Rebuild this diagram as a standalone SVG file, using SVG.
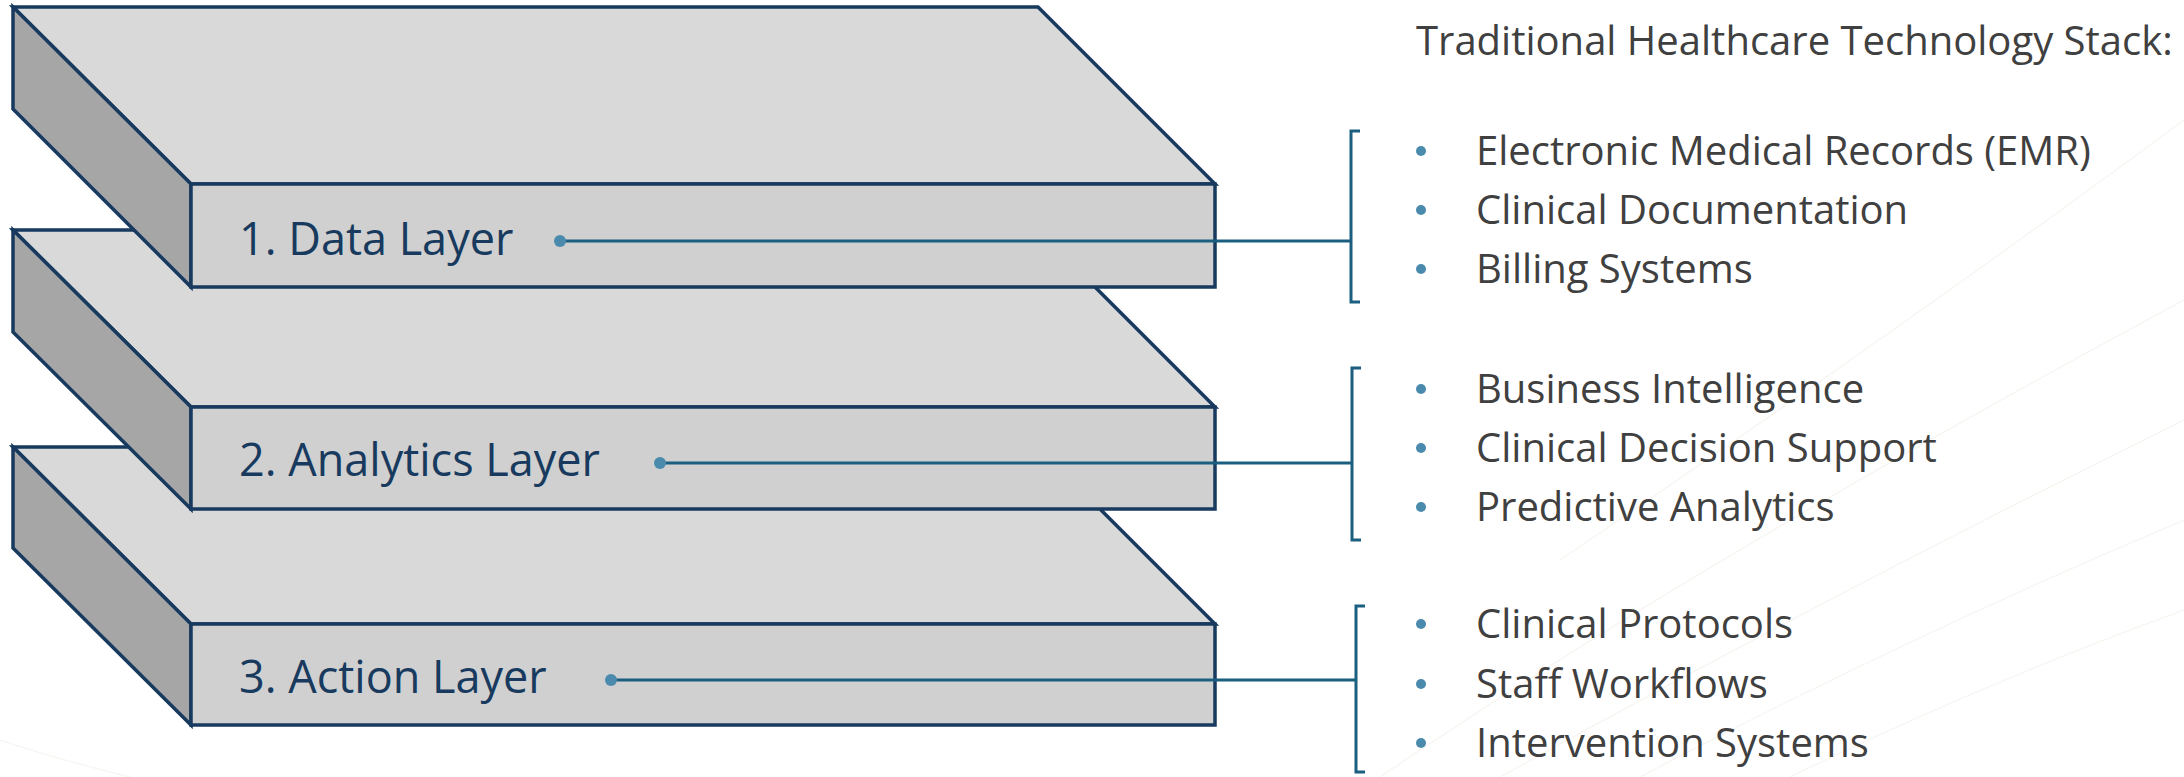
<svg xmlns="http://www.w3.org/2000/svg" width="2184" height="777" viewBox="0 0 2184 777">
<style>
.top{fill:#D9D9D9;stroke:#173A5E;stroke-width:3.5;stroke-linejoin:miter}
.side{fill:#A6A6A6;stroke:#173A5E;stroke-width:3.5;stroke-linejoin:miter}
.front{fill:#D0D0D0;stroke:#173A5E;stroke-width:3.5;stroke-linejoin:miter}
.lbl{font-family:"Open Sans","Noto Sans",sans-serif;font-size:45px;fill:#173A5E}
.item{font-family:"Open Sans","Noto Sans",sans-serif;font-size:40px;fill:#404040}
.conn{stroke:#1A5E80;stroke-width:3;fill:none}
.brk{stroke:#1A5E80;stroke-width:3;fill:none}
.dot{fill:#4A8BAD}
.bul{fill:#4A8BAD}
.deco{stroke:#F7F5F0;stroke-width:1.2;fill:none}
</style>
<rect width="2184" height="777" fill="#FFFFFF"/>
<g id="background">
<path class="deco" d="M1380 777 Q1700 560 2184 300"/>
<path class="deco" d="M1500 777 Q1820 600 2184 420"/>
<path class="deco" d="M1640 777 Q1900 640 2184 520"/>
<path class="deco" d="M1790 777 Q1990 680 2184 610"/>
<path class="deco" d="M1560 560 Q1900 330 2184 120"/>
<path class="deco" d="M0 740 Q60 760 130 777"/>
</g>
<g id="layer3">
<polygon class="top" points="13,447 1038,447 1215,624 191,624"/>
<polygon class="side" points="13,447 191,624 191,725 13,548"/>
<rect class="front" x="191" y="624" width="1024" height="101"/>
<text class="lbl" x="239" y="693">3. Action Layer</text>
</g>
<g id="layer2">
<polygon class="top" points="13,230 1038,230 1215,407 191,407"/>
<polygon class="side" points="13,230 191,407 191,509 13,332"/>
<rect class="front" x="191" y="407" width="1024" height="102"/>
<text class="lbl" x="239" y="476">2. Analytics Layer</text>
</g>
<g id="layer1">
<polygon class="top" points="13,7 1038,7 1215,184 191,184"/>
<polygon class="side" points="13,7 191,184 191,287 13,109"/>
<rect class="front" x="191" y="184" width="1024" height="103"/>
<text class="lbl" x="239" y="255">1. Data Layer</text>
</g>
<g id="connectors">
<line class="conn" x1="560" y1="241" x2="1351" y2="241"/>
<circle class="dot" cx="560" cy="241" r="6"/>
<path class="brk" d="M1360 131 H1351 V302 H1360"/>
<line class="conn" x1="660" y1="463" x2="1352" y2="463"/>
<circle class="dot" cx="660" cy="463" r="6"/>
<path class="brk" d="M1361 368 H1352 V540 H1361"/>
<line class="conn" x1="611" y1="680" x2="1356" y2="680"/>
<circle class="dot" cx="611" cy="680" r="6"/>
<path class="brk" d="M1365 606 H1356 V772 H1365"/>
</g>
<g id="title">
<text class="item" x="1416" y="55">Traditional Healthcare Technology Stack:</text>
</g>
<g id="list1">
<circle class="bul" cx="1421" cy="151" r="5"/>
<text class="item" x="1476" y="165">Electronic Medical Records (EMR)</text>
<circle class="bul" cx="1421" cy="210" r="5"/>
<text class="item" x="1476" y="224">Clinical Documentation</text>
<circle class="bul" cx="1421" cy="269" r="5"/>
<text class="item" x="1476" y="283">Billing Systems</text>
</g>
<g id="list2">
<circle class="bul" cx="1421" cy="389" r="5"/>
<text class="item" x="1476" y="403">Business Intelligence</text>
<circle class="bul" cx="1421" cy="448" r="5"/>
<text class="item" x="1476" y="462">Clinical Decision Support</text>
<circle class="bul" cx="1421" cy="507" r="5"/>
<text class="item" x="1476" y="521">Predictive Analytics</text>
</g>
<g id="list3">
<circle class="bul" cx="1421" cy="624" r="5"/>
<text class="item" x="1476" y="638">Clinical Protocols</text>
<circle class="bul" cx="1421" cy="684" r="5"/>
<text class="item" x="1476" y="698">Staff Workflows</text>
<circle class="bul" cx="1421" cy="743" r="5"/>
<text class="item" x="1476" y="757">Intervention Systems</text>
</g>
</svg>
